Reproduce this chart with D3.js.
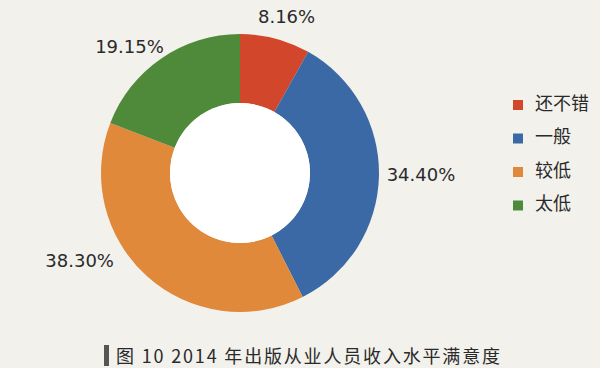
<!DOCTYPE html>
<html><head><meta charset="utf-8">
<script src="https://cdn.jsdelivr.net/npm/d3@7"></script>
<style>body{margin:0;background:#f2f1ec;}svg{display:block;}</style>
</head><body>
<svg id="c" width="600" height="368"></svg>
<script>
const categories = ["还不错", "一般", "较低", "太低"];
const values = [8.16, 34.40, 38.30, 19.15];
const labels = ["8.16%", "34.40%", "38.30%", "19.15%"];
const colors = ["#d2472b", "#3b69a6", "#e0893b", "#4f8a3b"];
const caption = "图 10 2014 年出版从业人员收入水平满意度";

const svg = d3.select("#c");
svg.append("rect").attr("width", 600).attr("height", 368).attr("fill", "#f2f1ec");

const cx = 240, cy = 173, rOuter = 139, rInner = 70;
const pie = d3.pie().sort(null).value(d => d);
const arc = d3.arc().innerRadius(rInner).outerRadius(rOuter);
const g = svg.append("g").attr("transform", `translate(${cx},${cy})`);
const arcs = pie(values);
g.selectAll("path").data(arcs).join("path")
  .attr("d", arc).attr("fill", (d, i) => colors[i]);
g.append("circle").attr("r", rInner).attr("fill", "#ffffff");

// labels placed outside the ring (anchor at arc centroid, then nudged)
const labelArc = d3.arc().innerRadius(160).outerRadius(160);
const nudges = [[6, 0], [21, -1], [-53, -30], [-20, 7]];
g.selectAll("text.lbl").data(arcs).join("text")
  .attr("class", "lbl")
  .attr("x", (d, i) => labelArc.centroid(d)[0] + nudges[i][0])
  .attr("y", (d, i) => labelArc.centroid(d)[1] + nudges[i][1])
  .attr("text-anchor", "middle").attr("dominant-baseline", "middle")
  .attr("font-family", "DejaVu Sans, sans-serif").attr("font-size", 18)
  .attr("fill", "#2a2a2a")
  .text((d, i) => labels[i]);

// legend
const lg = svg.append("g").attr("transform", "translate(513,100)");
const items = lg.selectAll("g").data(categories).join("g")
  .attr("transform", (d, i) => `translate(0,${i * 33.5})`);
items.append("rect").attr("width", 10).attr("height", 10).attr("fill", (d, i) => colors[i]);
items.append("text").attr("x", 22).attr("y", 5).attr("dominant-baseline", "middle")
  .attr("font-family", "Noto Sans CJK SC, sans-serif").attr("font-size", 18)
  .attr("fill", "#2a2a2a").text(d => d);

// caption
svg.append("rect").attr("x", 104).attr("y", 345).attr("width", 5).attr("height", 21).attr("fill", "#555");
svg.append("text").attr("x", 116).attr("y", 363)
  .attr("font-family", "Noto Sans CJK SC, sans-serif").attr("font-size", 18)
  .attr("textLength", 384).attr("lengthAdjust", "spacing")
  .attr("fill", "#2a2a2a").text(caption);
</script>
</body></html>
